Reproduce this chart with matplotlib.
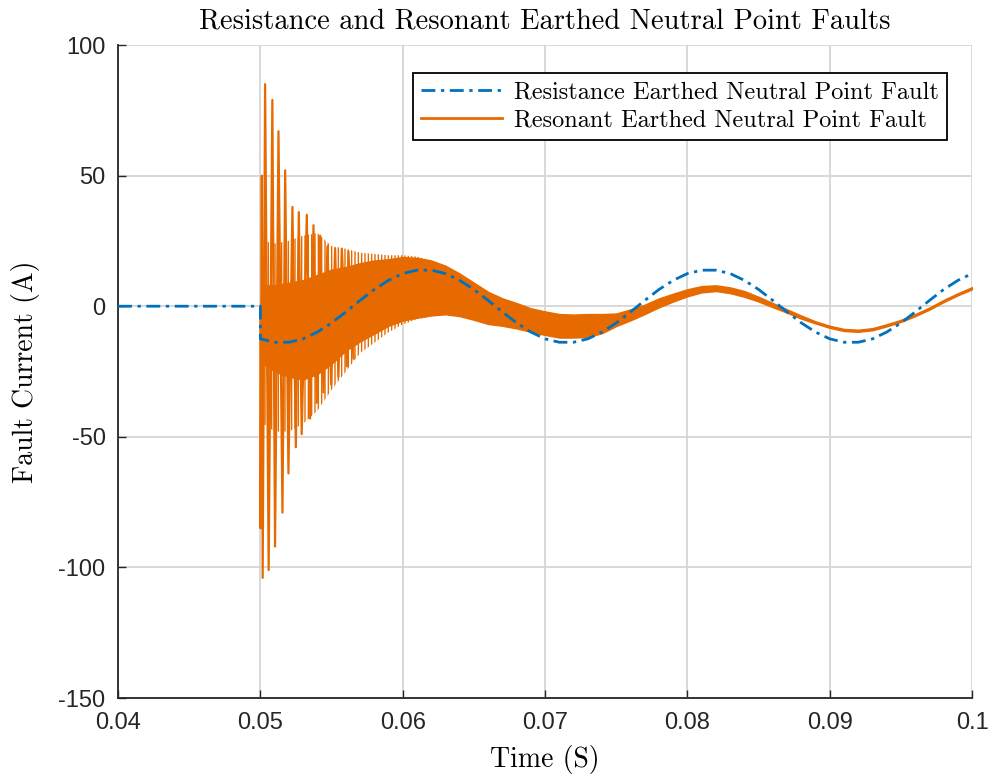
import matplotlib
matplotlib.use('Agg')
import matplotlib.pyplot as plt
from matplotlib.lines import Line2D

resist_t = [0.040, 0.050] + [round(0.050 + 0.001 * k, 3) for k in range(51)]
resist_i = [0, 0, -12.5,
            -13.8, -13.8, -12.5, -9.9, -6.4, -2.2, 2.2, 6.4, 9.9, 12.5,
            13.8, 13.8, 12.5, 9.9, 6.4, 2.2, -2.2, -6.4, -9.9, -12.5,
            -13.8, -13.8, -12.5, -9.9, -6.4, -2.2, 2.2, 6.4, 9.9, 12.5,
            13.8, 13.8, 12.5, 9.9, 6.4, 2.2, -2.2, -6.4, -9.9, -12.5,
            -13.8, -13.8, -12.5, -9.9, -6.4, -2.2, 2.2, 6.4, 9.9, 12.5]

# resonant earthed fault: first large transient spikes
spike_t = [0.04999, 0.05000, 0.05001, 0.05010, 0.05016, 0.05033, 0.05058, 0.05084,
           0.05103, 0.05127, 0.05155, 0.05174, 0.05197, 0.05225, 0.05249,
           0.05270, 0.05290, 0.05326, 0.05349, 0.05373, 0.05396, 0.05420,
           0.05443, 0.05471, 0.05497, 0.05525, 0.05548, 0.05572, 0.05607,
           0.05618, 0.05654]
spike_i = [0, 0, -85, 50, -104, 85, -101, 79, -92, 67, -79, 52, -64, 38, -54,
           36, -49, 35, -43, 31, -37, 27, -33, 23, -30, 22, -27, 22, -23,
           21, -20]

# envelope of the dense oscillation tips
fringe_t = [0.0502, 0.051, 0.052, 0.053, 0.054, 0.055, 0.056, 0.057, 0.058,
            0.059, 0.060, 0.061, 0.062, 0.063]
fringe_hi = [25, 24, 25, 27, 28, 23, 22, 20.5, 20, 19.5, 19.5, 19, 17.5, 15.5]
fringe_lo = [-45, -48, -48, -45, -40, -32, -25, -18, -14, -10, -7, -5, -4, -3.1]

# solid core band of the resonant fault current
core_t = [0.0500, 0.0502] + [round(0.051 + 0.001 * k, 3) for k in range(50)]
core_hi = [0, 8, 8, 9, 10, 12, 14, 15, 16.5, 17.5, 18, 18.8, 18.5, 17.5, 15.5,
           12.5, 9, 5.5, 3, 1.2, -0.8, -2.0, -3, -3.2, -3, -3, -2.8, -1.2,
           0.6, 3.0, 4.8, 6.5, 7.7, 8.0, 7.2, 5.8, 3.6, 1.2, -1.2, -3.6,
           -5.8, -7.5, -8.7, -9.0, -8.4, -6.9, -5.2, -3.0, -0.5, 2.4, 5.0, 7.3]
core_lo = [0, -22, -25, -27, -28, -26, -22, -17, -13.5, -10.5, -7.5, -5.5,
           -4.4, -3.5, -3.1, -3.8, -5.2, -6.8, -7.5, -8.5, -9.8, -11, -12,
           -12, -11.8, -10.3, -7.6, -5.4, -3.0, -0.4, 1.8, 3.8, 5.3, 5.8,
           5.0, 3.6, 1.8, -0.4, -2.5, -4.8, -6.6, -8.3, -9.5, -9.8, -9.2,
           -7.7, -6.0, -3.8, -1.3, 1.6, 4.2, 6.5]

xticks = [0.04, 0.05, 0.06, 0.07, 0.08, 0.09, 0.1]
xlabels = ['0.04', '0.05', '0.06', '0.07', '0.08', '0.09', '0.1']
yticks = [-150, -100, -50, 0, 50, 100]
ylabels = ['-150', '-100', '-50', '0', '50', '100']

blue = '#0072BD'
orange = '#E66A00'
dark = '#262626'
dash = (0, (5, 2, 1.2, 2))

plt.rcParams['hatch.linewidth'] = 1.0
serif = ['cmr10', 'DejaVu Serif']
tickfont = ['Liberation Sans Narrow', 'Liberation Sans', 'DejaVu Sans']

fig = plt.figure(figsize=(9.92, 7.76), dpi=100)
ax = fig.add_axes([0.119, 0.1005, 0.861, 0.8415])

ax.fill_between(fringe_t, fringe_lo, fringe_hi, facecolor='none',
                edgecolor=orange, hatch='|||||', linewidth=0, zorder=2)
ax.fill_between(core_t, core_lo, core_hi, color=orange, linewidth=1.0, zorder=3)
ax.plot(spike_t, spike_i, color=orange, linewidth=1.6, zorder=3)
ax.plot(resist_t, resist_i, color=blue, linewidth=2.0, linestyle=dash, zorder=4)

ax.set_xlim(0.04, 0.1)
ax.set_ylim(-150, 100)
ax.set_xticks(xticks)
ax.set_xticklabels(xlabels)
ax.set_yticks(yticks)
ax.set_yticklabels(ylabels)
for lab in ax.get_xticklabels() + ax.get_yticklabels():
    lab.set_family(tickfont)
    lab.set_fontsize(17)
    lab.set_color(dark)
ax.tick_params(direction='in', length=6, width=1.0, color=dark)
ax.tick_params(axis='x', pad=10)
ax.tick_params(axis='y', pad=9)
ax.grid(True, color='#d6d6d6', linewidth=1.3)
ax.set_axisbelow(True)
for s in ['top', 'right']:
    ax.spines[s].set_visible(False)
for s in ['left', 'bottom']:
    ax.spines[s].set_color(dark)
    ax.spines[s].set_linewidth(1.3)

ax.set_title('Resistance and Resonant Earthed Neutral Point Faults',
             family=serif, fontsize=20.5, pad=12)
ax.set_xlabel('Time (S)', family=serif, fontsize=20, labelpad=8)
ax.set_ylabel('Fault Current (A)', family=serif, fontsize=20, labelpad=13)

handles = [Line2D([], [], color=blue, linewidth=2.0, linestyle=dash),
           Line2D([], [], color=orange, linewidth=2.0)]
leg = ax.legend(handles, ['Resistance Earthed Neutral Point Fault',
                          'Resonant Earthed Neutral Point Fault'],
                loc='upper right', bbox_to_anchor=(0.9707, 0.957),
                borderaxespad=0, prop={'family': serif, 'size': 17.5},
                fancybox=False, framealpha=1, edgecolor='black',
                handlelength=3.3, borderpad=0.35, labelspacing=0.22,
                handletextpad=0.5)
leg.get_frame().set_linewidth(1.3)

fig.savefig('out.png', dpi=100)
